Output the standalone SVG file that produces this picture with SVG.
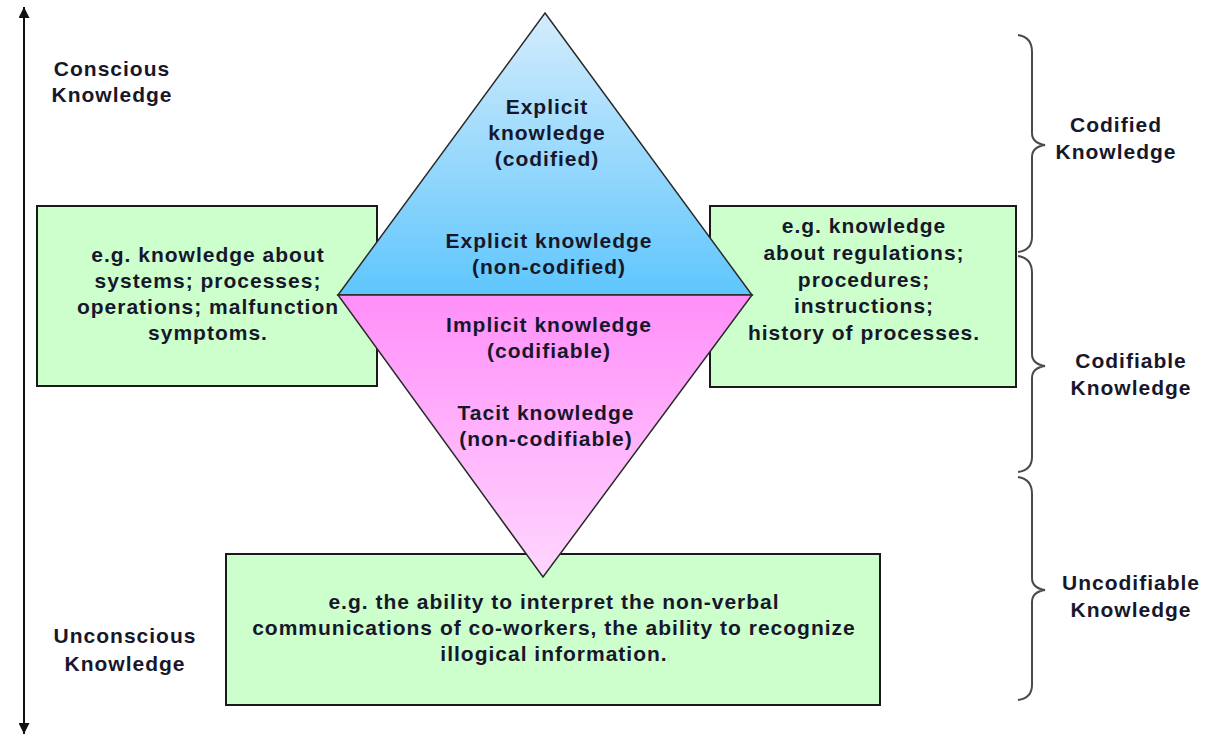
<svg xmlns="http://www.w3.org/2000/svg" width="1205" height="738" viewBox="0 0 1205 738">
<style>
text{font-family:"Liberation Sans",Arial,sans-serif;font-weight:bold;font-size:21px;letter-spacing:1px;fill:#17172b;text-anchor:middle}
.box{fill:#ccffcc;stroke:#1a1a1a;stroke-width:2}
.tri{stroke:#2a2a2a;stroke-width:1.5;stroke-linejoin:miter}
.brace{fill:none;stroke:#4a4a4a;stroke-width:2}
</style>
<defs>
<linearGradient id="gBlue" x1="0" y1="0" x2="0" y2="1">
<stop offset="0" stop-color="#d4ecfc"/>
<stop offset="1" stop-color="#5fc6fd"/>
</linearGradient>
<linearGradient id="gPink" x1="0" y1="0" x2="0" y2="1">
<stop offset="0" stop-color="#ff8ff9"/>
<stop offset="1" stop-color="#ffd6ff"/>
</linearGradient>
<marker id="ah" viewBox="0 0 10 10" refX="10" refY="5" markerWidth="11" markerHeight="11" markerUnits="userSpaceOnUse" orient="auto-start-reverse">
<path d="M0,0 L10,5 L0,10 z" fill="#111"/>
</marker>
</defs>

<g id="connectors">
<line x1="24" y1="734" x2="24" y2="7" stroke="#111" stroke-width="2" marker-start="url(#ah)" marker-end="url(#ah)"/>
<path class="brace" d="M1018,35 Q1032,37 1032,52 L1032,133 Q1032,143 1045,145 Q1032,147 1032,157 L1032,237 Q1032,250 1018,252"/>
<path class="brace" d="M1018,256 Q1032,258 1032,273 L1032,354 Q1032,364 1045,366 Q1032,368 1032,378 L1032,457 Q1032,470 1018,472"/>
<path class="brace" d="M1018,477 Q1032,479 1032,494 L1032,578 Q1032,588 1045,590 Q1032,592 1032,602 L1032,685 Q1032,698 1018,700"/>
</g>

<g id="box-left">
<rect class="box" x="37" y="206" width="340" height="180"/>
</g>
<g id="box-right">
<rect class="box" x="710" y="206" width="306" height="181"/>
</g>
<g id="box-bottom">
<rect class="box" x="226" y="554" width="654" height="151"/>
<text x="554" y="609">e.g. the ability to interpret the non-verbal</text>
<text x="554" y="635">communications of co-workers, the ability to recognize</text>
<text x="554" y="661">illogical information.</text>
</g>

<g id="explicit">
<polygon class="tri" points="545,13 752,295 338,295" fill="url(#gBlue)"/>
<text x="547" y="114">Explicit</text>
<text x="547" y="140">knowledge</text>
<text x="547" y="166">(codified)</text>
<text x="549" y="248">Explicit knowledge</text>
<text x="549" y="274">(non-codified)</text>
</g>
<g id="implicit">
<polygon class="tri" points="338,295 752,295 543,577" fill="url(#gPink)"/>
<text x="549" y="332">Implicit knowledge</text>
<text x="549" y="358">(codifiable)</text>
<text x="546" y="420">Tacit knowledge</text>
<text x="546" y="446">(non-codifiable)</text>
</g>

<g id="box-left-text">
<text x="208" y="262">e.g. knowledge about</text>
<text x="208" y="288">systems; processes;</text>
<text x="208" y="314">operations; malfunction</text>
<text x="208" y="340">symptoms.</text>
</g>
<g id="box-right-text">
<text x="864" y="233">e.g. knowledge</text>
<text x="864" y="260">about regulations;</text>
<text x="864" y="287">procedures;</text>
<text x="864" y="313">instructions;</text>
<text x="864" y="340">history of processes.</text>
</g>

<g id="label-conscious">
<text x="112" y="76">Conscious</text>
<text x="112" y="102">Knowledge</text>
</g>
<g id="label-unconscious">
<text x="125" y="643">Unconscious</text>
<text x="125" y="671">Knowledge</text>
</g>
<g id="label-codified">
<text x="1116" y="132">Codified</text>
<text x="1116" y="159">Knowledge</text>
</g>
<g id="label-codifiable">
<text x="1131" y="368">Codifiable</text>
<text x="1131" y="395">Knowledge</text>
</g>
<g id="label-uncodifiable">
<text x="1131" y="590">Uncodifiable</text>
<text x="1131" y="617">Knowledge</text>
</g>
</svg>
